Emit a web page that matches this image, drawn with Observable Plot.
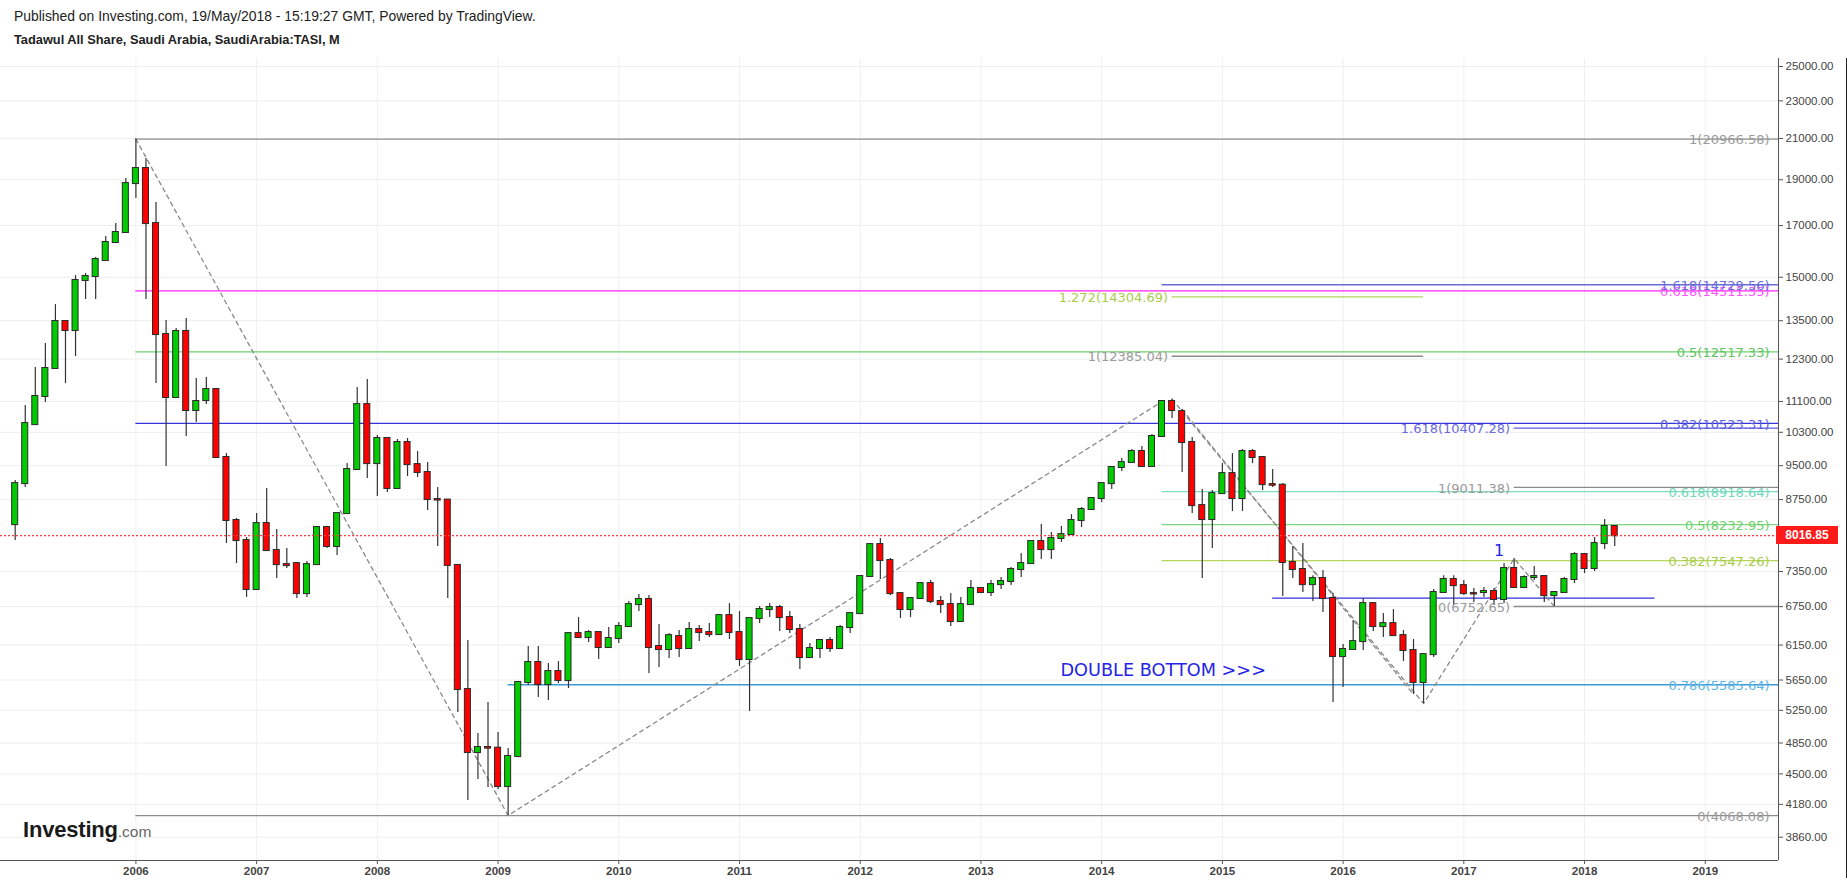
<!DOCTYPE html>
<html><head><meta charset="utf-8">
<script src="https://cdn.jsdelivr.net/npm/d3@7"></script>
<script src="https://cdn.jsdelivr.net/npm/@observablehq/plot@0.6"></script>
<style>
body{margin:0;background:#fff;font-family:"Liberation Sans",Arial,sans-serif;}
#wrap{position:relative;width:1847px;height:883px;overflow:hidden;background:#fff;}
#hdr1{position:absolute;left:14px;top:8px;font-size:13.9px;color:#222;white-space:nowrap;}
#hdr2{position:absolute;left:14px;top:32px;font-size:12.8px;font-weight:bold;color:#222;white-space:nowrap;}
#chart{position:absolute;left:0;top:58px;}
#logo{position:absolute;left:23px;top:817px;white-space:nowrap;}
#logo .a{font-size:22px;font-weight:bold;color:#1a1a1a;letter-spacing:-0.2px;}
#logo .b{font-size:15.5px;color:#666;}
#price{position:absolute;left:1776px;width:62px;height:18px;background:#ff1a1a;color:#fff;font-size:12px;font-weight:bold;line-height:18px;text-align:center;}
#edge{position:absolute;left:1846px;top:58px;width:1px;height:820px;background:#222;}
</style></head>
<body>
<div id="wrap">
  <div id="hdr1">Published on Investing.com, 19/May/2018 - 15:19:27 GMT, Powered by TradingView.</div>
  <div id="hdr2">Tadawul All Share, Saudi Arabia, SaudiArabia:TASI, M</div>
  <div id="chart"></div>
  <div id="logo"><span class="a">Investing</span><span class="b">.com</span></div>
  <div id="edge"></div>
</div>
<script>
// Monthly candles, index 0 = first bar (Jan 2005 position on the axis)
const opens = [8235,9096,10494,11234,12022,13473,13183,14881,15027,15620,16317,16717,18823,19523,17084,13054,11207,13151,10859,11125,11426,9690,8317,7923,7036,8256,7733,7474,7493,6967,7474,8177,7809,8458,9412,11016,9548,10147,8988,10048,9525,9343,8751,8740,7460,5521,4739,4797,4790,4364,4694,5616,5895,5588,5767,5643,6323,6263,6339,6113,6248,6432,6784,6868,6128,6084,6278,6098,6386,6339,6308,6605,6339,5938,6558,6703,6736,6574,6386,5967,6098,6218,6098,6417,6637,7261,7846,7548,6967,6703,6884,7138,6834,6784,6511,6784,7053,6985,7120,7174,7386,7493,7904,7752,7962,8038,8317,8542,8773,9096,9458,9572,9831,9480,10196,11098,10830,10048,8623,8337,8878,9319,8773,9831,9690,9074,9060,7512,7386,7120,7226,6884,5981,6084,6202,6800,6432,6478,6292,6069,5616,6009,6985,7209,7103,6967,6985,7002,6868,7404,7070,7244,7261,6933,6985,7209,7658,7404,7865,8197];
const highs = [9164,10989,12052,12772,14038,13506,15059,15133,15735,16557,17084,19055,20966.58,20003,17977,13506,13247,13572,11735,11763,11440,9782,8358,7981,8458,8988,8138,7771,7500,7530,8190,8190,8470,9548,11482,11706,10218,10171,10122,10147,9831,9572,9010,8751,7470,6218,4962,5350,4975,4786,5625,6127,6127,5880,5909,6339,6574,6370,6345,6417,6495,6834,6950,6933,6463,6323,6370,6495,6447,6478,6621,6800,6670,6570,6752,6800,6767,6670,6463,6172,6225,6263,6447,6645,7270,7855,7962,7585,6975,6901,7156,7191,6918,6967,6901,7191,7070,7191,7244,7422,7676,7910,8235,8078,8197,8437,8584,8794,9100,9465,9666,9879,9952,10243,11125,11159,10885,10171,8966,8944,9548,9782,9879,9879,9700,9412,9096,7809,7865,7277,7367,6967,6157,6527,6884,6817,6637,6703,6370,6233,6020,7036,7277,7277,7191,7053,7070,7053,7493,7585,7277,7440,7270,6990,7244,7696,7676,7981,8337,8210];
const lows = [7923,9010,10480,11071,12000,11592,12375,14212,14212,15600,16276,16675,18154,14212,11592,9480,11190,10196,10547,11016,9666,7865,7493,6901,7020,7720,7226,7404,6884,6901,7470,7771,7639,8450,9400,9209,8815,8901,8975,9253,9231,8521,7809,6884,5222,4219,4439,4354,4333,4068.08,4680,5574,5415,5376,5601,5535,6248,6187,5938,6105,6172,6425,6670,5739,5824,5952,5967,6090,6202,6263,6300,6233,5838,5234,6478,6574,6355,6323,5796,5960,5952,6039,6090,6323,6630,7255,7209,6933,6558,6574,6880,6800,6637,6432,6505,6780,6967,6918,7036,7103,7244,7485,7567,7567,7885,8030,8177,8535,8688,8966,9366,9565,9458,9470,10190,10650,9343,8458,7226,7771,8870,8500,8500,9548,8944,9010,6918,7226,6985,6834,6654,5350,5548,6080,6069,6355,6263,6278,5909,5454,5336,5967,6980,6767,6933,6817,6901,6767,6800,7060,7060,7191,6817,6752,6980,7138,7313,7350,7752,7809];
const closes = [9096,10520,11234,12022,13473,13183,14881,15027,15658,16317,16717,18823,19523,17084,13054,11207,13151,10859,11098,11426,9690,8317,7923,7036,8256,7733,7474,7456,6967,7474,8177,7809,8458,9412,11016,9548,10147,8988,10048,9525,9343,8751,8740,7460,5521,4739,4797,4790,4364,4694,5616,5895,5588,5767,5643,6323,6263,6339,6113,6248,6432,6784,6868,6113,6084,6292,6098,6386,6339,6308,6605,6339,5938,6558,6703,6736,6574,6386,5967,6098,6218,6098,6417,6637,7261,7846,7548,6967,6703,6884,7138,6834,6784,6511,6784,7053,6985,7120,7174,7386,7493,7904,7752,7962,8038,8317,8542,8773,9096,9458,9572,9831,9480,10196,11098,10859,10048,8623,8337,8878,9319,8773,9831,9690,9074,9060,7512,7386,7120,7226,6884,5981,6084,6202,6800,6432,6478,6292,6069,5616,6009,6985,7209,7103,6967,6960,7002,6868,7404,7070,7244,7261,6933,6985,7209,7658,7404,7865,8197,8016.85];

const yearLabels = ["2006","2007","2008","2009","2010","2011","2012","2013","2014","2015","2016","2017","2018","2019"];
const priceTicks = [25000,23000,21000,19000,17000,15000,13500,12300,11100,10300,9500,8750,7350,6750,6150,5650,5250,4850,4500,4180,3860];
const lastPrice = 8016.85;

// Fibonacci levels: price, label, line colour, label colour, start bar, end bar (null = right edge), label side
const fibPrices = [20966.58,14511.35,12517.33,10523.31,4068.08,5585.64,14729.56,8918.64,8232.95,7547.26,14304.69,12385.04,10407.28,9011.38,6752.65];
const fibLabels = ["1(20966.58)","0.618(14511.35)","0.5(12517.33)","0.382(10523.31)","0(4068.08)","0.786(5585.64)","1.618(14729.56)","0.618(8918.64)","0.5(8232.95)","0.382(7547.26)","1.272(14304.69)","1(12385.04)","1.618(10407.28)","1(9011.38)","0(6752.65)"];
const fibColors = ["#8c8c8c","#ff22ff","#6fcf6f","#3434dc","#8c8c8c","#3d9bd4","#6b6bd8","#7fdcc0","#7dd67d","#b5d65a","#b5d65a","#8c8c8c","#5a5ae0","#8c8c8c","#8c8c8c"];
const fibTextColors = ["#9a9a9a","#ff55ff","#5cc45c","#5a5ae0","#9a9a9a","#5ab4e6","#6b6bd8","#6fd8b8","#6fd06f","#a8cc4a","#a8cc4a","#9a9a9a","#6a6ae0","#9a9a9a","#9a9a9a"];
const fibStart = [12,12,12,12,12,49,114,114,114,114,115,115,149,149,149];
const fibEnd = [null,null,null,null,null,null,null,null,null,null,140,140,null,null,null];
const fibLabelSide = ["right","right","right","right","right","right","right","right","right","right","start","start","start","start","start"];

// neckline
const necklinePrice = 6890, necklineFrom = 125, necklineTo = 163;

// zig-zag dashed trend lines (bar, price)
const zigLines = [
  [[12,20966.58],[49,4068.08],[114,11100]],
  [[115,11159],[140,5336],[149,7585],[153,6752]],
  [[116,10885],[139,5454]]
];

const noteText = ["DOUBLE BOTTOM >>>", "1"];
const noteBar = [103.9, 147.5];
const notePrice = [5781, 7733];
const noteSize = [17.7, 16];
const noteAnchor = ["start", "middle"];

const candles = opens.map((o, i) => ({m: i, o, h: highs[i], l: lows[i], c: closes[i]}));
const fibs = fibPrices.map((p, i) => ({p, label: fibLabels[i], color: fibColors[i], tcolor: fibTextColors[i], from: fibStart[i], to: fibEnd[i], side: fibLabelSide[i]}));
const zig = zigLines.flatMap((pts, k) => pts.map(([m, p]) => ({k, m, p})));
const notes = noteText.map((t, i) => ({t, m: noteBar[i], p: notePrice[i], size: noteSize[i], anchor: noteAnchor[i]}));
const yearTicks = yearLabels.map(y => (+y - 2005) * 12);

const xDomain = [-1.46, 175.28];
const yDomain = [3648, 25490];
const xEnd = xDomain[1];

const noteMarks = notes.map(n => Plot.text([n], {x: "m", y: "p", text: "t", fontSize: n.size, textAnchor: n.anchor, fill: "#2424e6", fontFamily: "'DejaVu Sans', sans-serif"}));

const chart = Plot.plot({
  width: 1847, height: 825,
  marginLeft: 0, marginRight: 69, marginTop: 0, marginBottom: 23,
  x: {type: "linear", domain: xDomain},
  y: {type: "log", domain: yDomain},
  color: {type: "identity"},
  style: {fontFamily: "'Liberation Sans', Arial, sans-serif", fontSize: "11.5px", color: "#444", background: "transparent", overflow: "visible"},
  marks: [
    Plot.gridY(priceTicks, {stroke: "#ededed", strokeOpacity: 1}),
    Plot.gridX(yearTicks, {stroke: "#f0f0f0", strokeOpacity: 1}),
    Plot.axisY(priceTicks, {anchor: "right", tickFormat: d => d.toFixed(2), tickSize: 4, tickPadding: 3, fill: "#444", stroke: "#555"}),
    Plot.axisX(yearTicks, {anchor: "bottom", tickFormat: (d, i) => yearLabels[i], tickSize: 4, tickPadding: 2, fontWeight: "bold", fill: "#444", stroke: "#555"}),
    Plot.ruleX([xEnd], {stroke: "#555"}),
    Plot.ruleY([yDomain[0]], {stroke: "#555"}),
    // fib lines
    Plot.ruleY(fibs, {y: "p", x1: "from", x2: d => d.to == null ? xEnd : d.to, stroke: "color", strokeWidth: 1.3}),
    Plot.ruleY([necklinePrice], {x1: necklineFrom, x2: necklineTo, stroke: "#3030dd", strokeWidth: 1.3}),
    // dashed zigzags
    Plot.line(zig, {x: "m", y: "p", z: "k", stroke: "#8a8a8a", strokeWidth: 1.3, strokeDasharray: "4,4"}),
    // candles
    Plot.ruleX(candles, {x: "m", y1: "l", y2: "h", stroke: "#333", strokeWidth: 1.2}),
    Plot.rect(candles, {x1: d => d.m - 0.3, x2: d => d.m + 0.3, y1: d => Math.min(d.o, d.c), y2: d => Math.max(d.o, d.c),
      fill: d => d.c >= d.o ? "#00cc00" : "#ff0000", stroke: "#2a2a2a", strokeWidth: 1, insetTop: -0.5, insetBottom: -0.5}),
    // current price line
    Plot.ruleY([lastPrice], {stroke: "#ff3b3b", strokeWidth: 1.3, strokeDasharray: "2,2"}),
    // fib labels
    Plot.text(fibs.filter(d => d.side === "right"), {y: "p", text: "label", frameAnchor: "right", textAnchor: "end", dx: -9, dy: 1, fill: "tcolor", fontSize: 13, fontFamily: "'DejaVu Sans', sans-serif"}),
    Plot.text(fibs.filter(d => d.side === "start"), {x: "from", y: "p", text: "label", textAnchor: "end", dx: -4, dy: 1, fill: "tcolor", fontSize: 13, fontFamily: "'DejaVu Sans', sans-serif"}),
    ...noteMarks
  ]
});
document.getElementById("chart").appendChild(chart);

const yScale = chart.scale("y");
const box = document.createElement("div");
box.id = "price";
box.textContent = lastPrice.toFixed(2);
box.style.top = (58 + yScale.apply(lastPrice) - 9) + "px";
document.getElementById("wrap").appendChild(box);
</script>
</body></html>
